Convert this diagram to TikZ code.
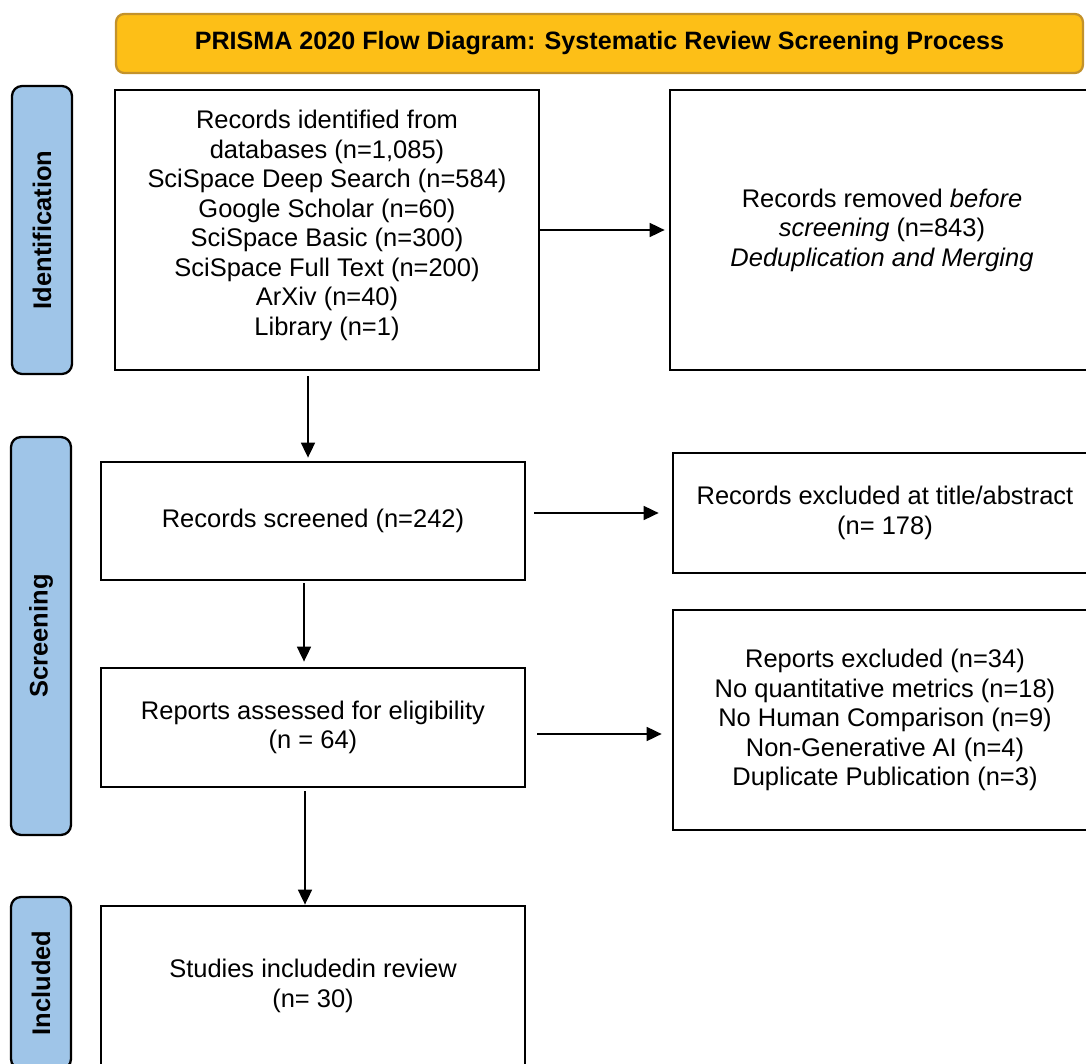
\documentclass[tikz,border=0pt]{standalone}
\usepackage{fontspec}
\setmainfont{Liberation Sans}
\usetikzlibrary{arrows.meta}
\tikzset{>={Triangle[length=0.3cm,width=0.28cm]}}
\definecolor{titlegold}{HTML}{FDBF17}
\definecolor{titleedge}{HTML}{C3922B}
\definecolor{phaseblue}{HTML}{9FC5E8}
\tikzset{
  flowbox/.style={draw,line width=1.6pt,align=center,inner sep=0pt,
    font=\fontsize{14.5}{16.8}\selectfont},
  phasebox/.style={draw,line width=1.3pt,fill=phaseblue,rounded corners=0.2cm,
    rotate=90,minimum height=1.2cm,font=\fontsize{14.5}{16.8}\selectfont\bfseries},
  flowarrow/.style={->,line width=1pt},
}

\begin{document}
\begin{tikzpicture}[x=0.02cm,y=-0.02cm]
      \useasboundingbox (0, 0) rectangle (1086, 1064);
      \clip (0, 0) rectangle (1086, 1064);

      \node[draw=titleedge,fill=titlegold,line width=1.3pt,rounded corners=0.16cm,
        minimum width=19.34cm,minimum height=1.18cm,
        font=\fontsize{14.3}{16.8}\selectfont\bfseries](title) at (599.5, 43.5)
        {PRISMA 2020 Flow Diagram: Systematic Review Screening Process};

      % phases on the left
      \node[phasebox,minimum width=5.76cm](idphase) at (42, 230) {Identification};
      \node[phasebox,minimum width=7.96cm](scrphase) at (41, 636) {Screening};
      \node[phasebox,minimum width=3.44cm](incphase) at (41, 983) {Included};

      % main column
      \node[flowbox,minimum width=8.48cm,minimum height=5.6cm](ident) at (327, 230)
        {Records identified from\\databases (n=1,085)\\SciSpace Deep Search (n=584)\\
         Google Scholar (n=60)\\SciSpace Basic (n=300)\\SciSpace Full Text (n=200)\\
         ArXiv (n=40)\\Library (n=1)\\[-8.8pt]};
      \node[flowbox,minimum width=8.48cm,minimum height=2.36cm](scr) at (313, 521)
        {Records screened (n=242)};
      \node[flowbox,minimum width=8.48cm,minimum height=2.38cm](assess) at (313, 727.5)
        {Reports assessed for eligibility\\(n = 64)};
      \node[flowbox,minimum width=8.48cm,minimum height=3.2cm](incl) at (313, 986)
        {Studies includedin review\\(n= 30)};

      % right column
      \node[flowbox,minimum width=8.48cm,minimum height=5.6cm](removed) at (882, 230)
        {Records removed \textit{before}\\\textit{screening} (n=843)\\
         \textit{Deduplication and Merging}};
      \node[flowbox,minimum width=8.48cm,minimum height=2.4cm](excl1) at (885, 513)
        {Records excluded at title/abstract\\(n= 178)};
      \node[flowbox,minimum width=8.48cm,minimum height=4.4cm](excl2) at (885, 720)
        {Reports excluded (n=34)\\No quantitative metrics (n=18)\\
         No Human Comparison (n=9)\\Non-Generative AI (n=4)\\Duplicate Publication (n=3)};

      \draw[flowarrow,shorten >=0.08cm] (ident) -- (removed);
      \draw[flowarrow,shorten <=0.1cm,shorten >=0.06cm] ([xshift=-0.38cm]ident.south)
        -- ([xshift=-0.38cm]ident.south |- scr.north);
      \draw[flowarrow,shorten <=0.16cm,shorten >=0.26cm] (scr.east |- excl1.west) -- (excl1.west);
      \draw[flowarrow,shorten <=0.04cm,shorten >=0.1cm] ([xshift=-0.18cm]scr.south)
        -- ([xshift=-0.18cm]assess.north);
      \draw[flowarrow,shorten <=0.22cm,shorten >=0.2cm] ([yshift=-0.13cm]assess.east)
        -- ([yshift=-0.13cm]assess.east -| excl2.west);
      \draw[flowarrow,shorten <=0.06cm] ([xshift=-0.16cm]assess.south)
        -- ([xshift=-0.16cm]incl.north);
\end{tikzpicture}
\end{document}
